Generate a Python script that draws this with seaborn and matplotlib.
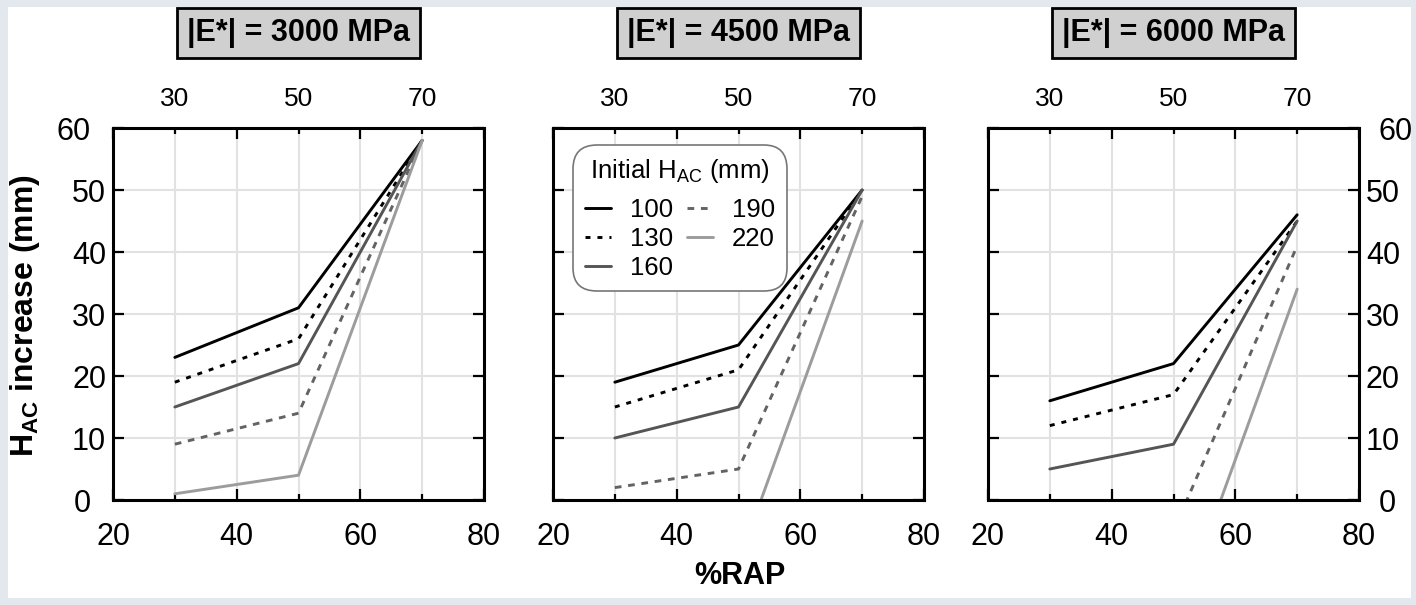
import pandas as pd
import seaborn as sns
import matplotlib.pyplot as plt
from matplotlib.patches import Rectangle
from matplotlib.ticker import MultipleLocator
from matplotlib.transforms import ScaledTranslation

# Data
rap = [30, 50, 70]
hac = ['100', '130', '160', '190', '220']
moduli = ['3000', '4500', '6000']

# H_AC increase (mm) per initial H_AC, one list per panel
inc_3000 = [[23, 31, 58], [19, 26, 58], [15, 22, 58], [9, 14, 58], [1, 4, 58]]
inc_4500 = [[19, 25, 50], [15, 21, 50], [10, 15, 50], [2, 5, 49], [-25, -10, 45]]
inc_6000 = [[16, 22, 46], [12, 17, 45], [5, 9, 45], [-12, -5, 41], [-40, -21, 34]]

colors = {'100': '#000000', '130': '#000000', '160': '#555555', '190': '#636363', '220': '#9c9c9c'}
dashes = {'100': '', '130': (1.7, 2.4), '160': '', '190': (2.3, 2.3), '220': ''}

sns.set_style('white')
plt.rcParams['font.family'] = ['Liberation Sans', 'DejaVu Sans']
plt.rcParams['mathtext.fontset'] = 'custom'
plt.rcParams['mathtext.rm'] = 'Liberation Sans'
plt.rcParams['mathtext.bf'] = 'Liberation Sans:bold'
plt.rcParams['mathtext.it'] = 'Liberation Sans:italic'
for key in ['text.color', 'axes.labelcolor', 'xtick.color', 'ytick.color']:
    plt.rcParams[key] = 'black'

fig = plt.figure(figsize=(14.16, 6.05), dpi=100)
fig.patch.set_facecolor('#e3e8ee')
fig.patches.append(Rectangle((8 / 1416, 7 / 605), 1403 / 1416, 591 / 605,
                             transform=fig.transFigure, facecolor='white',
                             edgecolor='none', zorder=-10))

lefts = [113 / 1416, 553 / 1416, 988 / 1416]
axes = [fig.add_axes([l, 105 / 605, 371 / 1416, 372 / 605]) for l in lefts]

for i, (ax, mod, inc) in enumerate(zip(axes, moduli, [inc_3000, inc_4500, inc_6000])):
    rows = []
    for h, vals in zip(hac, inc):
        for x, v in zip(rap, vals):
            rows.append({'rap': x, 'inc': v, 'hac': h})
    df = pd.DataFrame(rows)
    sns.lineplot(data=df, x='rap', y='inc', hue='hac', style='hac',
                 palette=colors, dashes=dashes, lw=2.1, ax=ax, legend=False)

    ax.set_xlim(20, 80)
    ax.set_ylim(0, 60)
    ax.xaxis.set_major_locator(MultipleLocator(20))
    ax.xaxis.set_minor_locator(MultipleLocator(10))
    ax.yaxis.set_major_locator(MultipleLocator(10))
    ax.grid(True, which='both', color='#e2e2e2', lw=1.5)
    ax.set_axisbelow(True)
    ax.set_xlabel('')
    ax.set_ylabel('')
    for s in ax.spines.values():
        s.set_linewidth(2.2)
        s.set_color('black')
    ax.tick_params(which='major', direction='in', length=8, width=1.6,
                   top=True, bottom=True, left=True, right=True,
                   labelsize=22, pad=16, colors='black')
    ax.tick_params(axis='x', which='minor', direction='in', length=4, width=1.6,
                   top=True, bottom=True)
    ax.tick_params(axis='y', pad=5, labelleft=(i == 0), labelright=(i == 2))

    top = ax.secondary_xaxis('top')
    top.set_xticks(rap)
    top.tick_params(length=0, labelsize=19, pad=12)
    top.spines['top'].set_visible(False)

    ax.text(0.5, 1.255, f'|E*| = {mod} MPa', transform=ax.transAxes,
            ha='center', va='center', fontsize=22, fontweight='bold',
            bbox=dict(boxstyle='square,pad=0.33', facecolor='#d0d0d0',
                      edgecolor='black', lw=2))

# end labels of the y axes sit a bit further out in the original
fig.canvas.draw()
shift_left = ScaledTranslation(-0.15, 0, fig.dpi_scale_trans)
shift_right = ScaledTranslation(0.13, 0, fig.dpi_scale_trans)
for t in axes[0].yaxis.get_major_ticks():
    if t.label1.get_text() in ('0', '60'):
        t.label1.set_transform(t.label1.get_transform() + shift_left)
for t in axes[2].yaxis.get_major_ticks():
    if t.label2.get_text() in ('0', '60'):
        t.label2.set_transform(t.label2.get_transform() + shift_right)

leg = axes[1].legend(handles=axes[1].lines[:5], labels=hac, ncol=2,
                     title='Initial H$_{\\mathrm{AC}}$ (mm)', fontsize=18.5,
                     title_fontsize=18.5, loc='upper left',
                     bbox_to_anchor=(0.055, 0.953), borderaxespad=0,
                     fancybox=True, edgecolor='#777777', framealpha=1,
                     handlelength=1.0, columnspacing=0.55, handletextpad=0.75,
                     labelspacing=0.2, borderpad=0.45)
leg._legend_box.sep = 9
leg.get_frame().set_linewidth(1.2)
leg.get_frame().set_boxstyle('round', pad=0, rounding_size=0.9)

fig.text(25 / 1416, 1 - 316 / 605, 'H$_{\\mathbf{AC}}$ increase (mm)', rotation=90,
         ha='center', va='center', fontsize=23, fontweight='bold')
fig.text(739.5 / 1416, 1 - 576 / 605, '%RAP', ha='center', va='center',
         fontsize=22, fontweight='bold')

fig.savefig('out.png', dpi=100, facecolor=fig.get_facecolor())
